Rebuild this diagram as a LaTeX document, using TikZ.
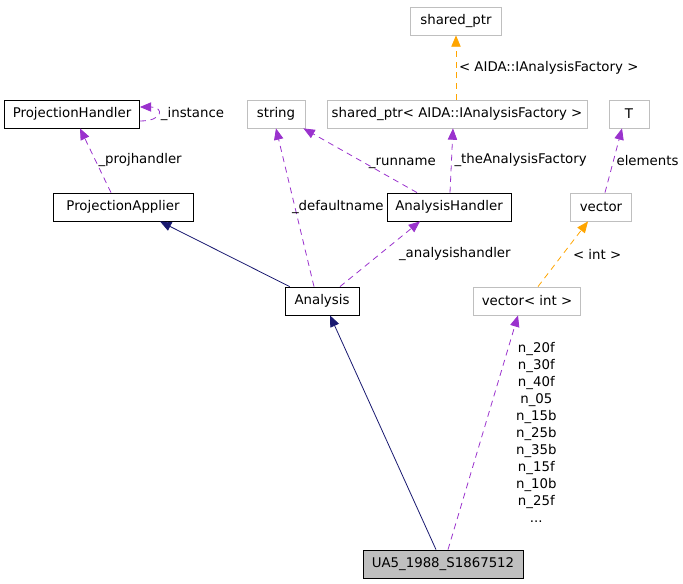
\documentclass[tikz,border=0pt]{standalone}
\usepackage{fontspec}
\setmainfont{DejaVu Sans}
\usepackage{xcolor}
\usepackage{tikz}
\usetikzlibrary{arrows.meta}

\definecolor{usecol}{HTML}{9A32CD}
\definecolor{inhcol}{HTML}{191970}
\definecolor{tplcol}{HTML}{FFA500}
\definecolor{extcol}{HTML}{BFBFBF}
\newdimen\px \px=0.75pt

\begin{document}
\begin{tikzpicture}[
    x=0.75pt, y=-0.75pt,
    font=\fontsize{10}{12.75}\selectfont,
    cls/.style={rectangle, draw=black, minimum height=28\px, inner sep=0pt, line width=0.6pt},
    ext/.style={cls, draw=extcol},
    self/.style={cls, fill=extcol},
    lab/.style={inner sep=2pt, align=center, text=black},
    uses/.style={-{Triangle[length=8.5pt,width=7pt]}, dash pattern=on 4.5pt off 3.5pt, line width=0.6pt, usecol},
    tpl/.style={uses, tplcol},
    inherit/.style={-{Triangle[length=8.5pt,width=7pt]}, line width=0.6pt, inhcol}
]
\useasboundingbox (0,0) rectangle (683,584);

% classes
\node[ext, minimum width=91\px] (sp) at (456,21) {shared\_ptr};
\node[cls, minimum width=135\px] (ph) at (72,114) {ProjectionHandler};
\node[ext, minimum width=58\px] (str) at (276,114) {string};
\node[ext, minimum width=260\px] (spa) at (457,114) {shared\_ptr< AIDA::IAnalysisFactory >};
\node[ext, minimum width=40\px] (tt) at (629,114) {T};
\node[cls, minimum width=140\px] (pa) at (123,207) {ProjectionApplier};
\node[cls, minimum width=124\px] (ah) at (449,207) {AnalysisHandler};
\node[ext, minimum width=61\px] (vec) at (601,207) {vector};
\node[cls, minimum width=74\px] (an) at (322,301) {Analysis};
\node[ext, minimum width=107\px] (vi) at (527,301) {vector< int >};
\node[self, minimum width=160\px] (ua) at (443,564) {UA5\_1988\_S1867512};

% templates
\draw[tpl] ([xshift=-1\px]spa.north) -- node[lab, right] {< AIDA::IAnalysisFactory >} (sp.south);
\draw[tpl] ([xshift=11\px]vi.north) -- node[lab, anchor=west, xshift=7\px] {< int >} ([xshift=-13\px]vec.south);

% members
\draw[uses] ([yshift=-7\px]ph.east) .. controls +(24\px,0) and +(24\px,0) .. node[lab, right] {\_instance} ([yshift=7\px]ph.east);
\draw[uses] ([xshift=-12\px]pa.north) -- node[lab, right] {\_projhandler} ([xshift=8\px]ph.south);
\draw[uses] ([xshift=-8\px]an.north) -- node[lab, anchor=west, xshift=-6\px] {\_defaultname} (str.south);
\draw[uses] ([xshift=18\px]an.north) -- node[lab, anchor=west, xshift=16\px] {\_analysishandler} ([xshift=-29\px]ah.south);
\draw[uses] ([xshift=-32\px]ah.north) -- node[lab, right, pos=0.45] {\_runname} ([xshift=-2\px]str.south east);
\draw[uses] ([xshift=1\px]ah.north) -- node[lab, right] {\_theAnalysisFactory} ([xshift=-4\px]spa.south);
\draw[uses] ([xshift=4\px]vec.north) -- node[lab, right] {elements} ([xshift=-7\px]tt.south);
\draw[uses] ([xshift=5\px]ua.north) -- node[lab, pos=0.5, anchor=west, xshift=30\px] {n\_20f\\n\_30f\\n\_40f\\n\_05\\n\_15b\\n\_25b\\n\_35b\\n\_15f\\n\_10b\\n\_25f\\...} ([xshift=-9\px]vi.south);

% inheritance
\draw[inherit] ([xshift=5\px]an.north west) -- ([xshift=37\px]pa.south);
\draw[inherit] ([xshift=-7\px]ua.north) -- ([xshift=8\px]an.south);

\end{tikzpicture}
\end{document}
